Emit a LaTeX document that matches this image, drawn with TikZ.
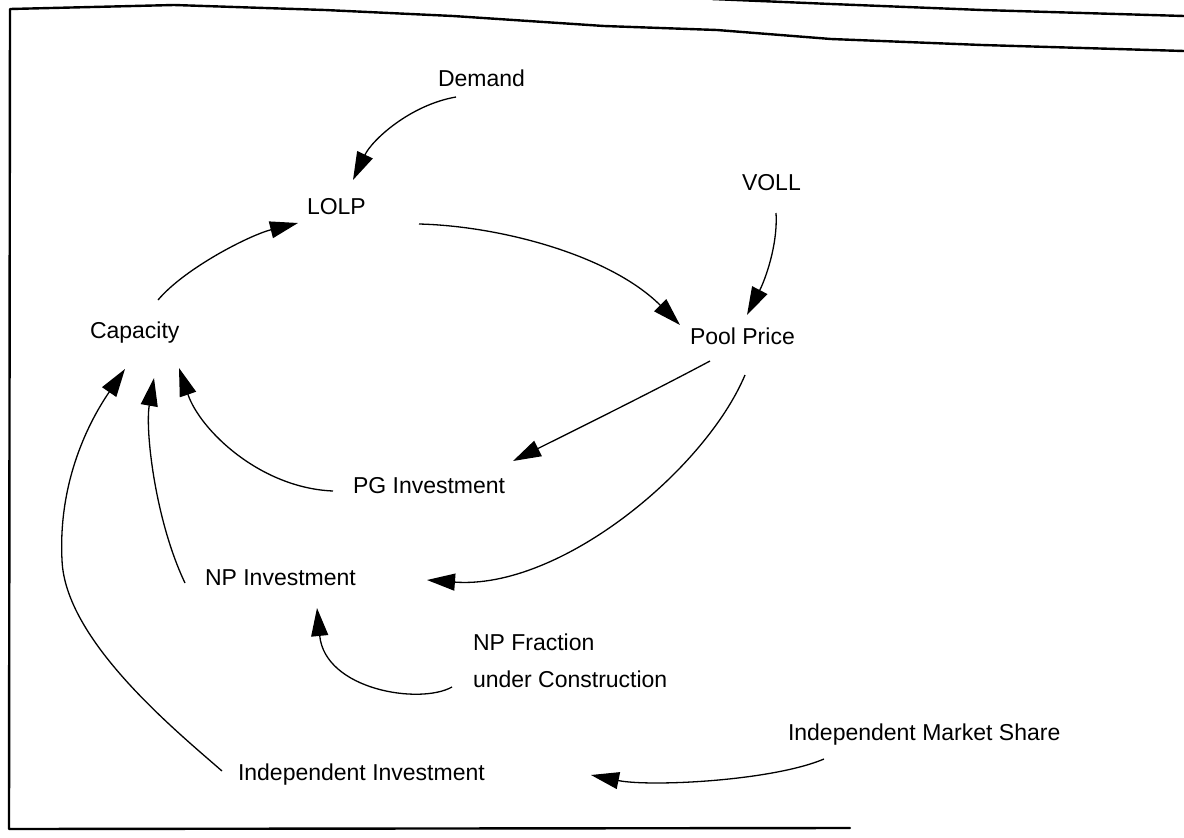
\documentclass[tikz,border=0pt]{standalone}
\usepackage{fontspec}
\setmainfont{Liberation Sans}
\usetikzlibrary{arrows.meta}
\begin{document}
\begin{tikzpicture}[x=1pt,y=-1pt,
  lbl/.style={inner sep=0pt,outer sep=0pt,anchor=base west,font=\fontsize{23}{37}\selectfont},
  arr/.style={line width=1.3pt,-{Triangle[length=28pt,width=17pt]}},
  frame/.style={line width=2.4pt,line cap=round,line join=round}]
\useasboundingbox (0,0) rectangle (1184,838);
% frame
\draw[frame] (850,828) -- (9,829) -- (10,9) -- (174,5) -- (325,10) -- (453,16) -- (604,26) -- (717,30) -- (831,39) -- (982,45) -- (1184,51);
\draw[frame] (712,-1) -- (831,4) -- (982,10) -- (1184,16);
% nodes
\node[lbl] (dem)  at (438,86)  {Demand};
\node[lbl] (lolp) at (307,214) {LOLP};
\node[lbl] (voll) at (742,190) {VOLL};
\node[lbl] (cap)  at (90,338)  {Capacity};
\node[lbl] (pool) at (690,344) {Pool Price};
\node[lbl] (pg)   at (353,493) {PG Investment};
\node[lbl] (np)   at (205,585) {NP Investment};
\node[lbl,align=left] (npf) at (473,687) {NP Fraction\\under Construction};
\node[lbl] (ims)  at (788,740) {Independent Market Share};
\node[lbl] (iinv) at (238,780) {Independent Investment};
% connectors
\draw[arr] ([shift={(18,11)}]dem.base west) .. controls +(-46,8) and +(19,-40) .. ([shift={(46,-34)}]lolp.base west);
\draw[arr] ([shift={(68,-38)}]cap.base west) .. controls +(27,-32) and +(-48,12) .. ([shift={(-9,9)}]lolp.base west);
\draw[arr] ([shift={(112,10)}]lolp.base west) .. controls +(81,2) and +(-70,-70) .. ([shift={(-10,-19)}]pool.base west);
\draw[arr] ([shift={(34,23)}]voll.base west) .. controls +(2,32) and +(18,-35) .. ([shift={(57,-29)}]pool.base west);
\draw[arr] ([shift={(20,17)}]pool.base west) .. controls +(-60,32) and +(60,-30) .. ([shift={(160,-32)}]pg.base west);
\draw[arr] ([shift={(55,31)}]pool.base west) .. controls +(-40,95) and +(133,10) .. ([shift={(222,-5)}]np.base west);
\draw[arr] ([shift={(-20,-2)}]pg.base west) .. controls +(-73,-3) and +(21,62) .. ([shift={(89,30)}]cap.base west);
\draw[arr] ([shift={(-20,-2)}]np.base west) .. controls +(-30,-63) and +(-9,52) .. ([shift={(64,40)}]cap.base west);
\draw[arr] ([shift={(-16,-9)}]iinv.base west) .. controls +(-47,-41) and +(3,80) .. ([shift={(-28,222)}]cap.base west) .. controls +(-4,-80) and +(-35,51) .. ([shift={(35,31)}]cap.base west);
\draw[arr] ([shift={(-21,0)}]npf.base west) .. controls +(-32,18) and +(8,82) .. ([shift={(112,23)}]np.base west);
\draw[arr] ([shift={(36,19)}]ims.base west) .. controls +(-52,22) and +(59,12) .. ([shift={(353,-5)}]iinv.base west);
\end{tikzpicture}
\end{document}
